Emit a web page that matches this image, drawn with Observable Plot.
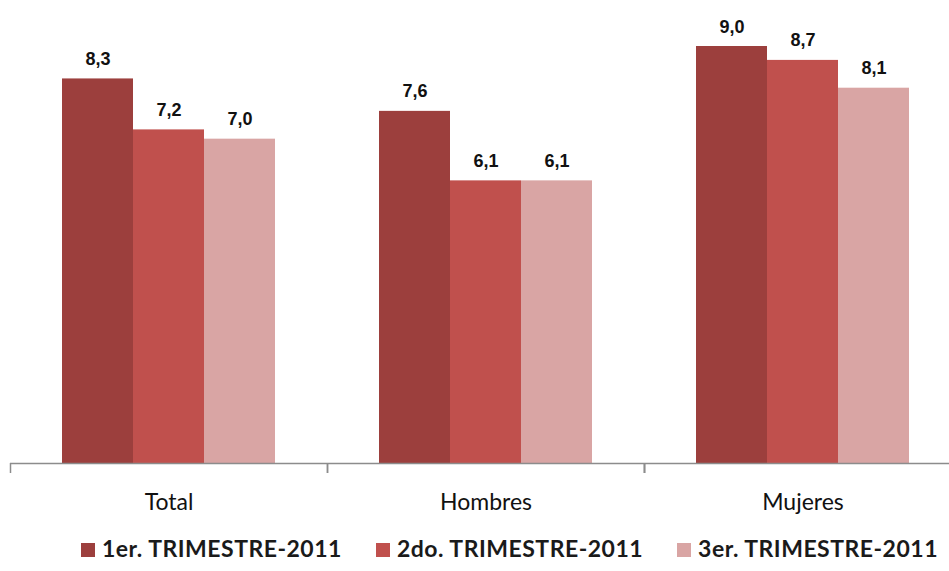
<!DOCTYPE html>
<html>
<head>
<meta charset="utf-8">
<script src="https://cdn.jsdelivr.net/npm/d3@7"></script>
<script src="https://cdn.jsdelivr.net/npm/@observablehq/plot@0.6"></script>
<style>
  body { margin: 0; background: #fff; }
  #chart { width: 949px; }
  .legend { display: flex; justify-content: center; align-items: center; gap: 34px;
    font-family: Lato, "Open Sans", sans-serif; font-weight: bold; font-size: 23px; color: #1a1a1a;
    height: 46px; padding-left: 70px; letter-spacing: 0.5px; }
  .legend span.sw { display: inline-block; width: 14px; height: 14px; margin-right: 7px; vertical-align: middle; position: relative; top: -1px; }
</style>
</head>
<body>
<div id="chart"></div>
<script>
const groups = ["Total", "Hombres", "Mujeres"];
const series = ["1er. TRIMESTRE-2011", "2do. TRIMESTRE-2011", "3er. TRIMESTRE-2011"];
const colors = ["#9c3f3d", "#c0504d", "#d9a5a4"];
const v1 = [8.3, 7.6, 9.0];
const v2 = [7.2, 6.1, 8.7];
const v3 = [7.0, 6.1, 8.1];

const seriesValues = [v1, v2, v3];
const data = [];
groups.forEach((g, gi) => series.forEach((s, si) => data.push({group: g, series: s, value: seriesValues[si][gi]})));

const fmt = v => d3.format(".1f")(v).replace(".", ",");

// boundary ticks at the left edge of each group band, drawn through the fx and y scales
function boundaryTicks(index, scales) {
  const g = d3.create("svg:g").attr("stroke", "#8c8c8c").attr("stroke-width", 1.5);
  const y0 = scales.y(0);
  groups.forEach(gr => {
    const x = Math.round(scales.fx(gr)) + 0.5;
    g.append("line").attr("x1", x).attr("x2", x).attr("y1", y0).attr("y2", y0 + 10);
  });
  return g.node();
}

const plot = Plot.plot({
  width: 949,
  height: 525,
  marginLeft: 10,
  marginRight: 0,
  marginTop: 46,
  marginBottom: 62,
  fx: {domain: groups, range: [10, 961], paddingInner: 0, paddingOuter: 0, label: null},
  x: {domain: series, paddingInner: 0, paddingOuter: 0.73, axis: null},
  y: {domain: [0, 9], axis: null},
  color: {domain: series, range: colors},
  style: {fontFamily: "Lato, 'Open Sans', sans-serif", background: "white"},
  marks: [
    Plot.barY(data, {fx: "group", x: "series", y: "value", fill: "series"}),
    Plot.text(data, {fx: "group", x: "series", y: "value", text: d => fmt(d.value),
      lineAnchor: "bottom", dy: -14, fontSize: 18, fontWeight: "bold",
      fontFamily: "'Liberation Sans', Arial, sans-serif", fill: "#111"}),
    Plot.ruleY([0], {stroke: "#8c8c8c", strokeWidth: 1.5}),
    boundaryTicks,
    Plot.axisFx({anchor: "bottom", tickSize: 0, tickPadding: 30, fontSize: 23, label: null, fill: "#111"})
  ]
});
document.getElementById("chart").appendChild(plot);

const legend = document.createElement("div");
legend.className = "legend";
series.forEach((s, i) => {
  const item = document.createElement("div");
  item.innerHTML = `<span class="sw" style="background:${colors[i]}"></span>${s}`;
  legend.appendChild(item);
});
document.getElementById("chart").appendChild(legend);
</script>
</body>
</html>
